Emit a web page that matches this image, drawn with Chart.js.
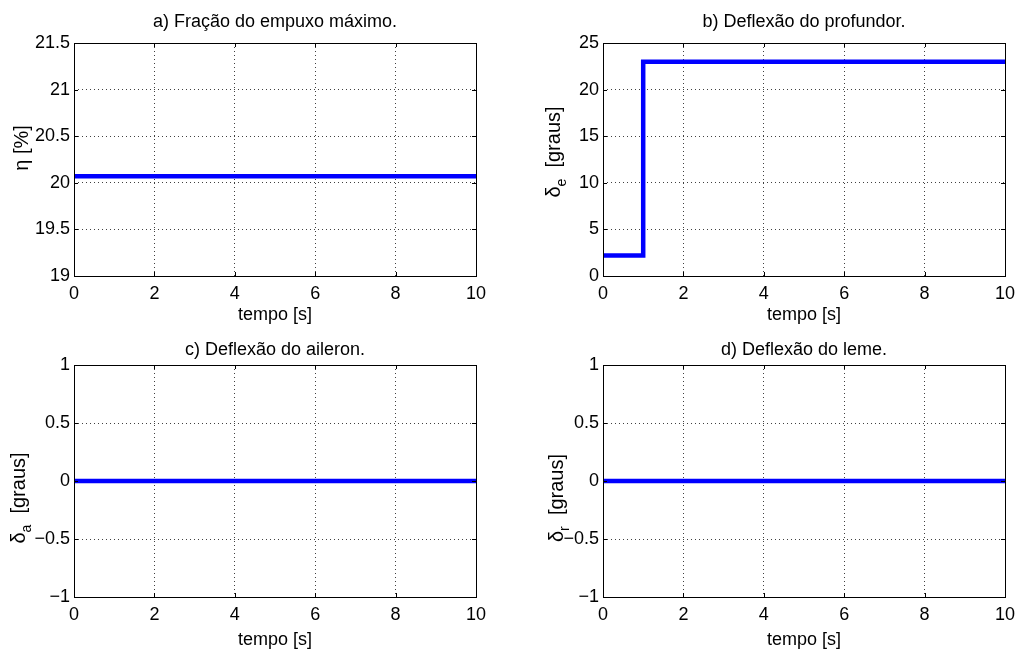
<!DOCTYPE html>
<html>
<head>
<meta charset="utf-8">
<script src="https://cdn.jsdelivr.net/npm/chart.js@4"></script>
<style>
  body { margin: 0; background: #fff; }
  #fig { position: relative; width: 1017px; height: 651px; }
  .cell { position: absolute; }
</style>
</head>
<body>
<div id="fig">
  <div class="cell" style="left:0;top:0;width:508px;height:325px"><canvas id="chA"></canvas></div>
  <div class="cell" style="left:508px;top:0;width:509px;height:325px"><canvas id="chB"></canvas></div>
  <div class="cell" style="left:0;top:325px;width:508px;height:326px"><canvas id="chC"></canvas></div>
  <div class="cell" style="left:508px;top:325px;width:509px;height:326px"><canvas id="chD"></canvas></div>
</div>
<script>
// data
const tempoA = [0, 10];
const eta = [20.07, 20.07];

const tempoB = [0, 1, 1, 10];
const deltaE = [2.2, 2.2, 23, 23];

const tempoC = [0, 10];
const deltaA = [0, 0];

const tempoD = [0, 10];
const deltaR = [0, 0];

const xTicks = [0, 2, 4, 6, 8, 10];
const yTicksA = [19, 19.5, 20, 20.5, 21, 21.5];
const yTicksB = [0, 5, 10, 15, 20, 25];
const yTicksC = [-1, -0.5, 0, 0.5, 1];
const yTicksD = [-1, -0.5, 0, 0.5, 1];

const titles = [
  "a) Fração do empuxo máximo.",
  "b) Deflexão do profundor.",
  "c) Deflexão do aileron.",
  "d) Deflexão do leme."
];
const yMain = ["η", "δ", "δ", "δ"];
const ySub = ["", "e", "a", "r"];
const yRest = [" [%]", "  [graus]", "  [graus]", "  [graus]"];
const xLabel = "tempo [s]";

const FONT = "'Liberation Sans', Arial, Helvetica, sans-serif";
const FS = 18;
const YFS = 20;

function fmt(v) {
  return String(v).replace("-", "\u2212");
}

// box, inward ticks and y label with subscript (MATLAB look)
const matlabBox = {
  id: "matlabBox",
  afterDraw(chart, args, o) {
    const c = chart.ctx;
    const a = chart.chartArea;
    const xs = chart.scales.x, ys = chart.scales.y;
    c.save();
    c.strokeStyle = "#000";
    c.lineWidth = 1;
    c.beginPath();
    xs.ticks.forEach(t => {
      const px = Math.round(xs.getPixelForValue(t.value)) + 0.5;
      c.moveTo(px, a.bottom); c.lineTo(px, a.bottom - 4);
      c.moveTo(px, a.top); c.lineTo(px, a.top + 4);
    });
    ys.ticks.forEach(t => {
      const py = Math.round(ys.getPixelForValue(t.value)) + 0.5;
      c.moveTo(a.left, py); c.lineTo(a.left + 4, py);
      c.moveTo(a.right, py); c.lineTo(a.right - 4, py);
    });
    c.stroke();
    c.strokeRect(Math.round(a.left) + 0.5, Math.round(a.top) + 0.5,
      Math.round(a.right - a.left), Math.round(a.bottom - a.top));

    // y label
    c.translate(o.lx, o.ly);
    c.rotate(-Math.PI / 2);
    c.fillStyle = "#000";
    c.textBaseline = "middle";
    const mf = YFS + "px " + FONT;
    const sf = Math.round(YFS * 0.72) + "px " + FONT;
    c.font = mf;
    const w1 = c.measureText(o.main).width;
    c.font = sf;
    const w2 = o.sub ? c.measureText(o.sub).width : 0;
    c.font = mf;
    const w3 = c.measureText(o.rest).width;
    const x0 = -(w1 + w2 + w3) / 2;
    c.textAlign = "left";
    c.fillText(o.main, x0, 0);
    if (o.sub) {
      c.font = sf;
      c.fillText(o.sub, x0 + w1, 8);
    }
    c.font = mf;
    c.fillText(o.rest, x0 + w1 + w2, 0);
    c.restore();
  }
};

function makeChart(id, i, tempo, vals, yTicks, lay) {
  const pts = tempo.map((t, k) => ({ x: t, y: vals[k] }));
  return new Chart(document.getElementById(id), {
    type: "line",
    data: {
      datasets: [{
        data: pts,
        borderColor: "#0000ff",
        borderWidth: 4.5,
        pointRadius: 0,
        tension: 0,
        fill: false
      }]
    },
    options: {
      responsive: true,
      maintainAspectRatio: false,
      animation: false,
      layout: { padding: { left: 0, right: lay.right, top: 0, bottom: 0 } },
      plugins: {
        legend: { display: false },
        tooltip: { enabled: false },
        title: {
          display: true,
          fullSize: false,
          text: titles[i],
          color: "#000",
          font: { family: FONT, size: FS, weight: "normal" },
          padding: { top: lay.tTop, bottom: lay.tBot }
        },
        matlabBox: { main: yMain[i], sub: ySub[i], rest: yRest[i], lx: lay.lx, ly: lay.ly }
      },
      scales: {
        x: {
          type: "linear",
          min: xTicks[0],
          max: xTicks[xTicks.length - 1],
          afterBuildTicks: s => { s.ticks = xTicks.map(v => ({ value: v })); },
          afterFit: s => { s.height = lay.xh; },
          ticks: {
            color: "#000",
            font: { family: FONT, size: FS },
            padding: 0,
            maxRotation: 0,
            callback: v => fmt(v)
          },
          grid: {
            color: "rgba(0,0,0,0.75)", lineWidth: 1,
            drawTicks: true, tickLength: 7, tickColor: "rgba(0,0,0,0)"
          },
          border: { display: false, dash: [1, 3] },
          title: {
            display: true,
            text: xLabel,
            color: "#000",
            font: { family: FONT, size: FS },
            padding: { top: 0, bottom: lay.xtb }
          }
        },
        y: {
          type: "linear",
          min: yTicks[0],
          max: yTicks[yTicks.length - 1],
          afterBuildTicks: s => { s.ticks = yTicks.map(v => ({ value: v })); },
          afterFit: s => { s.width = lay.yw; },
          ticks: {
            color: "#000",
            font: { family: FONT, size: FS },
            padding: 4,
            callback: v => fmt(v)
          },
          grid: { color: "rgba(0,0,0,0.75)", lineWidth: 1, drawTicks: false },
          border: { display: false, dash: [1, 3] }
        }
      }
    },
    plugins: [matlabBox]
  });
}

makeChart("chA", 0, tempoA, eta, yTicksA,
  { right: 32, yw: 74, xh: 49, tTop: 11, tBot: 10.4, xtb: -1, lx: 22, ly: 148 });
makeChart("chB", 1, tempoB, deltaE, yTicksB,
  { right: 12, yw: 95, xh: 49, tTop: 11, tBot: 10.4, xtb: -1, lx: 46, ly: 152 });
makeChart("chC", 2, tempoC, deltaA, yTicksC,
  { right: 32, yw: 74, xh: 54, tTop: 14, tBot: 4.4, xtb: 0, lx: 19, ly: 173 });
makeChart("chD", 3, tempoD, deltaR, yTicksD,
  { right: 12, yw: 95, xh: 54, tTop: 14, tBot: 4.4, xtb: 0, lx: 49, ly: 173 });
</script>
</body>
</html>
